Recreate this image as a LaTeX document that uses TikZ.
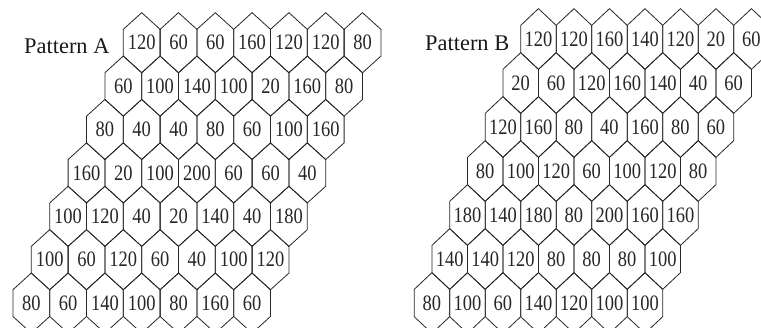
\documentclass[tikz,border=0pt]{standalone}
\usepackage{fontspec}
\setmainfont{Liberation Serif}
\begin{document}
\begin{tikzpicture}[x=1pt,y=-1pt,
  cell/.style={line width=0.8pt, draw=black!85, line join=miter},
  val/.style={inner sep=0pt, font=\fontsize{22}{24}\selectfont, text=black!85},
  title/.style={inner sep=0pt, anchor=base west, font=\fontsize{22.4}{26}\selectfont, text=black!90}]
\useasboundingbox (0,0) rectangle (761,327);
\clip (0,0) rectangle (761,327);

% Pattern A: cell width 36.8, row pitch 43.4, point height 16.7, side 26.7
\foreach \row [count=\r from 0] in {
  {120,60,60,160,120,120,80},
  {60,100,140,100,20,160,80},
  {80,40,40,80,60,100,160},
  {160,20,100,200,60,60,40},
  {100,120,40,20,140,40,180},
  {100,60,120,60,40,100,120},
  {80,60,140,100,80,160,60}} {
  \foreach \val [count=\c from 0] in \row {
    \pgfmathsetmacro\cx{141.7-18.4*\r+36.8*\c}
    \pgfmathsetmacro\cy{42.7+43.4*\r}
    \draw[cell] (\cx,\cy-30.05) -- ++(18.4,16.7) -- ++(0,26.7) -- ++(-18.4,16.7)
      -- ++(-18.4,-16.7) -- ++(0,-26.7) -- cycle;
    \node[val] (A-\r-\c) at (\cx,\cy) {\scalebox{0.84}[1]{\val}};
  }
}

% Pattern B: cell width 35.5, row pitch 44, point height 16.7, side 27.3
\foreach \row [count=\r from 0] in {
  {120,120,160,140,120,20,60},
  {20,60,120,160,140,40,60},
  {120,160,80,40,160,80,60},
  {80,100,120,60,100,120,80},
  {180,140,180,80,200,160,160},
  {140,140,120,80,80,80,100},
  {80,100,60,140,120,100,100}} {
  \foreach \val [count=\c from 0] in \row {
    \pgfmathsetmacro\cx{538.45-17.75*\r+35.5*\c}
    \pgfmathsetmacro\cy{39+44*\r}
    \draw[cell] (\cx,\cy-30.35) -- ++(17.75,16.7) -- ++(0,27.3) -- ++(-17.75,16.7)
      -- ++(-17.75,-16.7) -- ++(0,-27.3) -- cycle;
    \node[val] (B-\r-\c) at (\cx,\cy) {\scalebox{0.84}[1]{\val}};
  }
}

\node[title] (titleA) at (24,53) {Pattern A};
\node[title] (titleB) at (425,50) {Pattern B};
\end{tikzpicture}
\end{document}
